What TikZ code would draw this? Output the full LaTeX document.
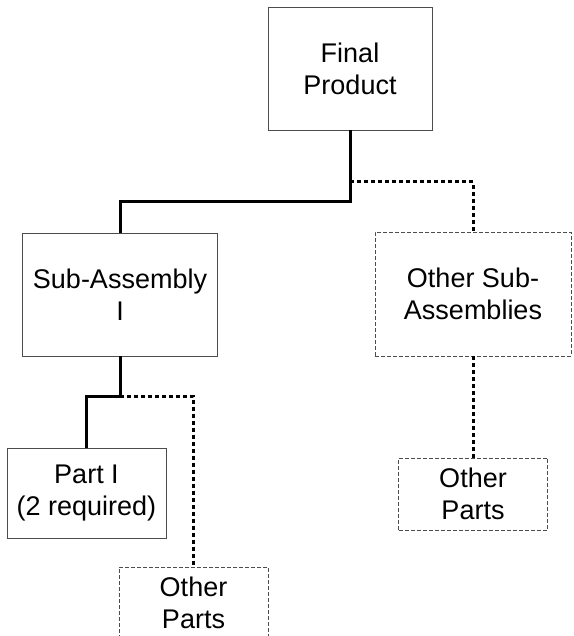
\documentclass[tikz,border=0pt]{standalone}
\usepackage{fontspec}
\setmainfont{Liberation Sans}
\usepackage{tikz}

\begin{document}
\begin{tikzpicture}[x=1pt,y=-1pt,
  box/.style={draw=black!70, line width=0.9pt, inner sep=0pt, align=center,
    font=\fontsize{27}{32}\selectfont},
  otherbox/.style={box, dash pattern=on 4pt off 2pt},
  link/.style={line width=3pt, black},
  otherlink/.style={line width=3pt, black, dash pattern=on 4pt off 3pt}]
\useasboundingbox (0,0) rectangle (573,636);

% Top level
\node[box, minimum width=164pt, minimum height=123pt] (final) at (350,68.5) {Final\\Product};

% Sub-assemblies
\node[box, minimum width=195pt, minimum height=123pt] (sub) at (120,294.5) {Sub-Assembly\\I};
\node[otherbox, minimum width=196pt, minimum height=124pt] (osub) at (473,294) {Other Sub-\\Assemblies};

% Parts
\node[box, minimum width=159pt, minimum height=90pt] (part) at (86.5,493) {Part I\\(2 required)};
\node[otherbox, minimum width=149pt, minimum height=72pt] (oparts) at (193.5,603) {Other\\Parts};
\node[otherbox, minimum width=149pt, minimum height=72pt] (oparts2) at (473,494) {Other\\Parts};

% Connections
\coordinate (fj) at (350,182);
\coordinate (fk) at (350,202);
\coordinate (sj) at (120,396);
\draw[link] (final.south) -- (fk) -| (sub.north);
\draw[otherlink] (fj) -| (osub.north);
\draw[link] (sub.south) -- (sj) -| (part.north);
\draw[otherlink] (sj) -| (oparts.north);
\draw[otherlink] (osub.south) -- (oparts2.north);
\end{tikzpicture}
\end{document}
